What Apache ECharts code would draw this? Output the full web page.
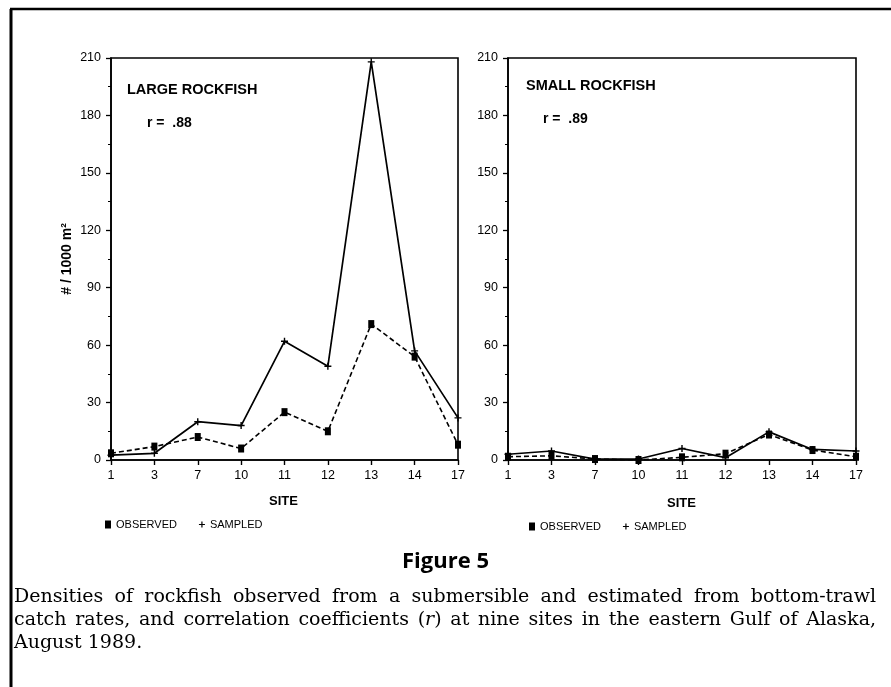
<!DOCTYPE html>
<html lang="en">
  <head>
    <meta charset="UTF-8" />
    <title>Figure 5</title>
    <script src="https://cdn.jsdelivr.net/npm/echarts@6/dist/echarts.min.js"></script>
    <style>
      html, body { margin: 0; padding: 0; background: #fff; }
      #chart { width: 891px; height: 687px; }
    </style>
  </head>
  <body>
    <div id="chart"></div>
    <script>
      // data
      var sites = ['1', '3', '7', '10', '11', '12', '13', '14', '17'];
      var largeObserved = [3.5, 7, 12, 6, 25, 15, 71, 54, 8];
      var largeSampled = [2.5, 3.5, 20, 18, 62, 49, 208, 57, 22];
      var smallObserved = [1.7, 2.2, 0.5, 0, 1.4, 3.3, 13.3, 5.2, 1.7];
      var smallSampled = [3, 4.7, 0.5, 0.5, 6, 1.2, 14.7, 5.5, 4.7];
      var yTicks = [0, 30, 60, 90, 120, 150, 180, 210];

      var captionLines = [
        'Densities of rockfish observed from a submersible and estimated from bottom-trawl',
        'catch rates, and correlation coefficients (r) at nine sites in the eastern Gulf of Alaska,',
        'August 1989.'
      ];

      var plusIcon = 'path://M4,0 L6,0 L6,4 L10,4 L10,6 L6,6 L6,10 L4,10 L4,6 L0,6 L0,4 L4,4 Z';
      var sans = '"Liberation Sans", Arial, sans-serif';
      var serif = '"DejaVu Serif", serif';

      var chart = echarts.init(document.getElementById('chart'));

      function xAxis(gi) {
        return {
          type: 'category',
          gridIndex: gi,
          data: sites,
          boundaryGap: false,
          axisLine: { lineStyle: { color: '#000', width: 1.6 } },
          axisTick: { show: true, length: 5, lineStyle: { color: '#000', width: 1.4 } },
          axisLabel: { color: '#000', fontSize: 12.5, fontFamily: sans, margin: 9 },
          splitLine: { show: false }
        };
      }
      function yAxis(gi, withName) {
        return {
          type: 'value',
          gridIndex: gi,
          min: yTicks[0],
          max: yTicks[yTicks.length - 1],
          interval: 30,
          name: withName ? '# / 1000 m\u00B2' : '',
          nameLocation: 'middle',
          nameGap: 37,
          nameRotate: 90,
          nameTextStyle: { color: '#000', fontSize: 14, fontWeight: 'bold', fontFamily: sans },
          axisLine: { show: true, lineStyle: { color: '#000', width: 1.6 } },
          axisTick: { show: true, length: 5, lineStyle: { color: '#000', width: 1.3 } },
          minorTick: { show: true, splitNumber: 2, length: 3, lineStyle: { color: '#000', width: 1 } },
          axisLabel: { color: '#000', fontSize: 12.5, fontFamily: sans, margin: 10 },
          splitLine: { show: false }
        };
      }
      function lineSeries(name, gi, values, dashed) {
        return {
          name: name,
          type: 'line',
          xAxisIndex: gi,
          yAxisIndex: gi,
          data: values,
          symbol: dashed ? 'rect' : plusIcon,
          symbolSize: dashed ? [6, 8] : 7,
          showAllSymbol: true,
          itemStyle: { color: '#000' },
          lineStyle: dashed
            ? { color: '#000', width: 1.6, type: [5, 3] }
            : { color: '#000', width: 1.7 },
          emphasis: { disabled: true },
          z: dashed ? 3 : 4
        };
      }
      function legend(left, top) {
        return {
          left: left,
          top: top,
          orient: 'horizontal',
          itemGap: 22,
          itemWidth: 6,
          itemHeight: 8,
          selectedMode: false,
          textStyle: { color: '#000', fontSize: 11, fontFamily: sans },
          data: [
            { name: 'OBSERVED', icon: 'rect' },
            { name: 'SAMPLED', icon: plusIcon }
          ]
        };
      }

      // justified caption, one text per word; "(r)" has an italic r
      var ctx = document.createElement('canvas').getContext('2d');
      var capFont = '19px ' + serif;
      ctx.font = capFont;
      var capLeft = 14, capRight = 876, capTop = [588, 611, 634];
      var captionGraphics = [];
      captionLines.forEach(function (line, li) {
        var words = line.split(' ');
        var widths = words.map(function (w) { return ctx.measureText(w).width; });
        var total = widths.reduce(function (a, b) { return a + b; }, 0);
        var justify = li < captionLines.length - 1;
        var gap = justify ? (capRight - capLeft - total) / (words.length - 1) : ctx.measureText(' ').width;
        var x = capLeft;
        words.forEach(function (w, wi) {
          var style = { text: w, font: capFont, fill: '#000' };
          if (w === '(r)') {
            style.text = '({i|r})';
            style.rich = { i: { fontFamily: serif, fontSize: 19, fontStyle: 'italic', fill: '#000' } };
          }
          captionGraphics.push({ type: 'text', left: x, top: capTop[li], style: style });
          x += widths[wi] + gap;
        });
      });

      var option = {
        backgroundColor: '#fff',
        animation: false,
        grid: [
          { left: 111, right: 433, top: 58, bottom: 227, show: true, borderColor: '#000', borderWidth: 1.6 },
          { left: 508, right: 35, top: 58, bottom: 227, show: true, borderColor: '#000', borderWidth: 1.6 }
        ],
        xAxis: [xAxis(0), xAxis(1)],
        yAxis: [yAxis(0, true), yAxis(1, false)],
        legend: [legend(100, 514), legend(524, 516)],
        series: [
          lineSeries('OBSERVED', 0, largeObserved, true),
          lineSeries('SAMPLED', 0, largeSampled, false),
          lineSeries('OBSERVED', 1, smallObserved, true),
          lineSeries('SAMPLED', 1, smallSampled, false)
        ],
        graphic: [
          // outer frame
          { type: 'line', shape: { x1: 11, y1: 9, x2: 11, y2: 687 }, style: { stroke: '#000', lineWidth: 3 } },
          { type: 'line', shape: { x1: 10, y1: 9, x2: 891, y2: 9 }, style: { stroke: '#000', lineWidth: 2.5 } },
          // panel labels
          { type: 'text', left: 127, top: 82, style: { text: 'LARGE ROCKFISH', font: 'bold 14.5px ' + sans, fill: '#000' } },
          { type: 'text', left: 147, top: 116, style: { text: 'r =  .88', font: 'bold 14px ' + sans, fill: '#000' } },
          { type: 'text', left: 526, top: 78, style: { text: 'SMALL ROCKFISH', font: 'bold 14.5px ' + sans, fill: '#000' } },
          { type: 'text', left: 543, top: 112, style: { text: 'r =  .89', font: 'bold 14px ' + sans, fill: '#000' } },
          { type: 'text', left: 269, top: 495, style: { text: 'SITE', font: 'bold 13px ' + sans, fill: '#000' } },
          { type: 'text', left: 667, top: 497, style: { text: 'SITE', font: 'bold 13px ' + sans, fill: '#000' } },
          { type: 'text', left: 'center', top: 551, style: { text: 'Figure 5', font: 'bold 22px "Open Sans", sans-serif', fill: '#000' } }
        ].concat(captionGraphics)
      };

      chart.setOption(option);
    </script>
  </body>
</html>
